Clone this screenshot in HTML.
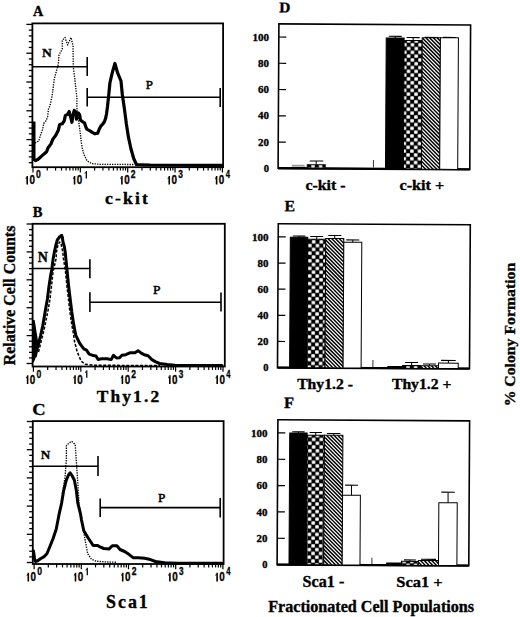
<!DOCTYPE html>
<html><head><meta charset="utf-8"><style>
html,body{margin:0;padding:0;background:#fff;width:520px;height:617px;overflow:hidden}
svg{display:block}
text{fill:#000;stroke:#000;stroke-width:0.35px;font-kerning:none;font-family:"Liberation Serif",serif}
.tk,.tks{stroke-width:0.45px}
.tk{font-family:"Liberation Sans",sans-serif;font-size:12.2px}
.tks{font-family:"Liberation Sans",sans-serif;font-size:10.7px}
</style></head><body>
<svg width="520" height="617" viewBox="0 0 520 617">
<rect x="32.4" y="23.4" width="190.7" height="143.79999999999998" fill="none" stroke="#000" stroke-width="1.8"/>
<line x1="26.40" y1="24.40" x2="32.40" y2="24.40" stroke="#000" stroke-width="1.3"/>
<line x1="28.80" y1="30.16" x2="32.40" y2="30.16" stroke="#000" stroke-width="1.3"/>
<line x1="28.80" y1="35.92" x2="32.40" y2="35.92" stroke="#000" stroke-width="1.3"/>
<line x1="28.80" y1="41.68" x2="32.40" y2="41.68" stroke="#000" stroke-width="1.3"/>
<line x1="28.80" y1="47.44" x2="32.40" y2="47.44" stroke="#000" stroke-width="1.3"/>
<line x1="26.40" y1="53.20" x2="32.40" y2="53.20" stroke="#000" stroke-width="1.3"/>
<line x1="28.80" y1="58.96" x2="32.40" y2="58.96" stroke="#000" stroke-width="1.3"/>
<line x1="28.80" y1="64.72" x2="32.40" y2="64.72" stroke="#000" stroke-width="1.3"/>
<line x1="28.80" y1="70.48" x2="32.40" y2="70.48" stroke="#000" stroke-width="1.3"/>
<line x1="28.80" y1="76.24" x2="32.40" y2="76.24" stroke="#000" stroke-width="1.3"/>
<line x1="26.40" y1="82.00" x2="32.40" y2="82.00" stroke="#000" stroke-width="1.3"/>
<line x1="28.80" y1="87.76" x2="32.40" y2="87.76" stroke="#000" stroke-width="1.3"/>
<line x1="28.80" y1="93.52" x2="32.40" y2="93.52" stroke="#000" stroke-width="1.3"/>
<line x1="28.80" y1="99.28" x2="32.40" y2="99.28" stroke="#000" stroke-width="1.3"/>
<line x1="28.80" y1="105.04" x2="32.40" y2="105.04" stroke="#000" stroke-width="1.3"/>
<line x1="26.40" y1="110.80" x2="32.40" y2="110.80" stroke="#000" stroke-width="1.3"/>
<line x1="28.80" y1="116.56" x2="32.40" y2="116.56" stroke="#000" stroke-width="1.3"/>
<line x1="28.80" y1="122.32" x2="32.40" y2="122.32" stroke="#000" stroke-width="1.3"/>
<line x1="28.80" y1="128.08" x2="32.40" y2="128.08" stroke="#000" stroke-width="1.3"/>
<line x1="28.80" y1="133.84" x2="32.40" y2="133.84" stroke="#000" stroke-width="1.3"/>
<line x1="26.40" y1="139.60" x2="32.40" y2="139.60" stroke="#000" stroke-width="1.3"/>
<line x1="28.80" y1="145.36" x2="32.40" y2="145.36" stroke="#000" stroke-width="1.3"/>
<line x1="28.80" y1="151.12" x2="32.40" y2="151.12" stroke="#000" stroke-width="1.3"/>
<line x1="28.80" y1="156.88" x2="32.40" y2="156.88" stroke="#000" stroke-width="1.3"/>
<line x1="28.80" y1="162.64" x2="32.40" y2="162.64" stroke="#000" stroke-width="1.3"/>
<line x1="33.00" y1="167.20" x2="33.00" y2="172.40" stroke="#000" stroke-width="1.2"/>
<line x1="47.25" y1="167.20" x2="47.25" y2="170.60" stroke="#000" stroke-width="1.2"/>
<line x1="55.59" y1="167.20" x2="55.59" y2="170.60" stroke="#000" stroke-width="1.2"/>
<line x1="61.51" y1="167.20" x2="61.51" y2="170.60" stroke="#000" stroke-width="1.2"/>
<line x1="66.10" y1="167.20" x2="66.10" y2="170.60" stroke="#000" stroke-width="1.2"/>
<line x1="69.85" y1="167.20" x2="69.85" y2="170.60" stroke="#000" stroke-width="1.2"/>
<line x1="73.02" y1="167.20" x2="73.02" y2="170.60" stroke="#000" stroke-width="1.2"/>
<line x1="75.76" y1="167.20" x2="75.76" y2="170.60" stroke="#000" stroke-width="1.2"/>
<line x1="78.18" y1="167.20" x2="78.18" y2="170.60" stroke="#000" stroke-width="1.2"/>
<line x1="80.35" y1="167.20" x2="80.35" y2="172.40" stroke="#000" stroke-width="1.2"/>
<line x1="94.60" y1="167.20" x2="94.60" y2="170.60" stroke="#000" stroke-width="1.2"/>
<line x1="102.94" y1="167.20" x2="102.94" y2="170.60" stroke="#000" stroke-width="1.2"/>
<line x1="108.86" y1="167.20" x2="108.86" y2="170.60" stroke="#000" stroke-width="1.2"/>
<line x1="113.45" y1="167.20" x2="113.45" y2="170.60" stroke="#000" stroke-width="1.2"/>
<line x1="117.20" y1="167.20" x2="117.20" y2="170.60" stroke="#000" stroke-width="1.2"/>
<line x1="120.37" y1="167.20" x2="120.37" y2="170.60" stroke="#000" stroke-width="1.2"/>
<line x1="123.11" y1="167.20" x2="123.11" y2="170.60" stroke="#000" stroke-width="1.2"/>
<line x1="125.53" y1="167.20" x2="125.53" y2="170.60" stroke="#000" stroke-width="1.2"/>
<line x1="127.70" y1="167.20" x2="127.70" y2="172.40" stroke="#000" stroke-width="1.2"/>
<line x1="141.95" y1="167.20" x2="141.95" y2="170.60" stroke="#000" stroke-width="1.2"/>
<line x1="150.29" y1="167.20" x2="150.29" y2="170.60" stroke="#000" stroke-width="1.2"/>
<line x1="156.21" y1="167.20" x2="156.21" y2="170.60" stroke="#000" stroke-width="1.2"/>
<line x1="160.80" y1="167.20" x2="160.80" y2="170.60" stroke="#000" stroke-width="1.2"/>
<line x1="164.55" y1="167.20" x2="164.55" y2="170.60" stroke="#000" stroke-width="1.2"/>
<line x1="167.72" y1="167.20" x2="167.72" y2="170.60" stroke="#000" stroke-width="1.2"/>
<line x1="170.46" y1="167.20" x2="170.46" y2="170.60" stroke="#000" stroke-width="1.2"/>
<line x1="172.88" y1="167.20" x2="172.88" y2="170.60" stroke="#000" stroke-width="1.2"/>
<line x1="175.05" y1="167.20" x2="175.05" y2="172.40" stroke="#000" stroke-width="1.2"/>
<line x1="189.30" y1="167.20" x2="189.30" y2="170.60" stroke="#000" stroke-width="1.2"/>
<line x1="197.64" y1="167.20" x2="197.64" y2="170.60" stroke="#000" stroke-width="1.2"/>
<line x1="203.56" y1="167.20" x2="203.56" y2="170.60" stroke="#000" stroke-width="1.2"/>
<line x1="208.15" y1="167.20" x2="208.15" y2="170.60" stroke="#000" stroke-width="1.2"/>
<line x1="211.90" y1="167.20" x2="211.90" y2="170.60" stroke="#000" stroke-width="1.2"/>
<line x1="215.07" y1="167.20" x2="215.07" y2="170.60" stroke="#000" stroke-width="1.2"/>
<line x1="217.81" y1="167.20" x2="217.81" y2="170.60" stroke="#000" stroke-width="1.2"/>
<line x1="220.23" y1="167.20" x2="220.23" y2="170.60" stroke="#000" stroke-width="1.2"/>
<line x1="222.40" y1="167.20" x2="222.40" y2="172.40" stroke="#000" stroke-width="1.2"/>
<path d="M26.40,175.90H28.00V184.60H26.40ZM26.60,175.90L25.60,178.16L25.60,179.38L26.60,177.81Z" fill="#000"/>
<text transform="translate(29.46,184.45) scale(0.8215,1)" style="font-family:'Liberation Sans',sans-serif;font-weight:bold;font-size:12.03px;stroke-width:0.30px">0</text>
<text transform="translate(36.11,178.35) scale(0.8360,1)" style="font-family:'Liberation Sans',sans-serif;font-weight:bold;font-size:10.31px;stroke-width:0.30px">0</text>
<path d="M73.75,175.90H75.35V184.60H73.75ZM73.95,175.90L72.95,178.16L72.95,179.38L73.95,177.81Z" fill="#000"/>
<text transform="translate(76.81,184.45) scale(0.8215,1)" style="font-family:'Liberation Sans',sans-serif;font-weight:bold;font-size:12.03px;stroke-width:0.30px">0</text>
<path d="M85.70,171.00H86.95V178.50H85.70ZM85.90,171.00L84.65,172.95L84.65,174.00L85.90,172.65Z" fill="#000"/>
<path d="M121.10,175.90H122.70V184.60H121.10ZM121.30,175.90L120.30,178.16L120.30,179.38L121.30,177.81Z" fill="#000"/>
<text transform="translate(124.16,184.45) scale(0.8215,1)" style="font-family:'Liberation Sans',sans-serif;font-weight:bold;font-size:12.03px;stroke-width:0.30px">0</text>
<text transform="translate(130.85,178.35) scale(0.8259,1)" style="font-family:'Liberation Sans',sans-serif;font-weight:bold;font-size:10.31px;stroke-width:0.30px">2</text>
<path d="M168.45,175.90H170.05V184.60H168.45ZM168.65,175.90L167.65,178.16L167.65,179.38L168.65,177.81Z" fill="#000"/>
<text transform="translate(171.51,184.45) scale(0.8215,1)" style="font-family:'Liberation Sans',sans-serif;font-weight:bold;font-size:12.03px;stroke-width:0.30px">0</text>
<text transform="translate(178.31,178.35) scale(0.7999,1)" style="font-family:'Liberation Sans',sans-serif;font-weight:bold;font-size:10.31px;stroke-width:0.30px">3</text>
<path d="M215.80,175.90H217.40V184.60H215.80ZM216.00,175.90L215.00,178.16L215.00,179.38L216.00,177.81Z" fill="#000"/>
<text transform="translate(218.86,184.45) scale(0.8215,1)" style="font-family:'Liberation Sans',sans-serif;font-weight:bold;font-size:12.03px;stroke-width:0.30px">0</text>
<text transform="translate(225.73,178.35) scale(0.7314,1)" style="font-family:'Liberation Sans',sans-serif;font-weight:bold;font-size:10.47px;stroke-width:0.30px">4</text>
<line x1="33.8" y1="121.5" x2="33.8" y2="161" stroke="#000" stroke-width="3.4"/>
<polyline points="35.5,160.5 37.8,159.5 42.7,155.1 46.6,151.7 48.1,147.8 51.0,143.9 52.9,139.1 55.8,135.2 58.3,130.3 59.7,124.5 62.3,123.8 64.2,120.8 65.4,115.4 67.3,114.6 69.2,111.5 70.8,117.7 71.9,122.3 73.1,115.4 74.2,110.4 76.2,112.3 76.5,119.2 78.5,113.1 79.6,114.6 80.4,120.0 82.3,121.5 84.6,123.1 85.8,126.9 86.9,129.2 90.0,130.8 92.3,132.3 95.0,133.8 97.7,133.1 99.2,129.2 100.8,126.2 102.8,124.0 104.5,121.5 105.5,118.6 106.5,114.0 107.5,106.5 108.8,94.4 109.9,83.0 112.2,72.9 114.9,63.5 117.6,72.9 121.0,81.0 122.3,94.4 124.3,107.9 125.7,118.6 126.3,123.5 128.4,136.9 131.0,149.0 133.7,158.5 136.4,164.5 150.0,165.0 222.0,165.3" fill="none" stroke="#000" stroke-width="3.2" stroke-linejoin="round" stroke-linecap="round"/>
<polyline points="35.0,143.0 38.8,141.0 40.8,134.2 42.7,129.3 43.7,123.5 46.1,120.6 47.6,116.7 48.5,108.9 50.0,105.5 52.2,95.4 54.2,79.2 56.2,71.8 58.3,64.4 59.0,55.0 62.3,49.0 62.3,40.2 65.0,37.5 67.7,45.0 71.0,37.5 73.0,45.6 73.3,67.0 75.0,80.6 76.9,98.0 76.9,108.0 79.2,125.0 80.0,131.0 80.8,138.0 81.8,146.0 83.8,154.2 87.2,161.0 91.9,163.6 100.0,164.3 134.0,164.5" fill="none" stroke="#000" stroke-width="1.35" stroke-linejoin="round" stroke-linecap="butt" stroke-dasharray="1.3 1.2"/>
<line x1="32.4" y1="66.8" x2="87.2" y2="66.8" stroke="#000" stroke-width="1.6"/><line x1="87.2" y1="57" x2="87.2" y2="75.9" stroke="#000" stroke-width="1.6"/>
<line x1="87.2" y1="97.3" x2="220.2" y2="97.3" stroke="#000" stroke-width="1.6"/><line x1="87.2" y1="88" x2="87.2" y2="106.5" stroke="#000" stroke-width="1.6"/><line x1="220.2" y1="88.1" x2="220.2" y2="106.9" stroke="#000" stroke-width="1.6"/>
<text transform="translate(41.92,56.62) scale(1.0258,1)" style="font-family:'Liberation Serif',serif;font-weight:bold;font-size:13.21px;stroke-width:0.35px">N</text>
<text transform="translate(145.80,89.45) scale(1.0000,1)" style="font-family:'Liberation Serif',serif;font-weight:normal;font-size:12.83px;stroke-width:0.50px">P</text>
<text transform="translate(33.04,15.72) scale(0.9180,1)" style="font-family:'Liberation Serif',serif;font-weight:bold;font-size:15.53px;stroke-width:0.35px">A</text>
<text transform="translate(105.07,204.42) scale(1.0941,1)" style="font-family:'Liberation Serif',serif;font-weight:bold;font-size:16.07px;letter-spacing:2.00px;stroke-width:0.35px">c-kit</text>
<rect x="32.6" y="223.8" width="192.20000000000002" height="142.7" fill="none" stroke="#000" stroke-width="1.8"/>
<line x1="26.60" y1="224.00" x2="32.60" y2="224.00" stroke="#000" stroke-width="1.3"/>
<line x1="29.00" y1="229.58" x2="32.60" y2="229.58" stroke="#000" stroke-width="1.3"/>
<line x1="29.00" y1="235.16" x2="32.60" y2="235.16" stroke="#000" stroke-width="1.3"/>
<line x1="29.00" y1="240.74" x2="32.60" y2="240.74" stroke="#000" stroke-width="1.3"/>
<line x1="29.00" y1="246.32" x2="32.60" y2="246.32" stroke="#000" stroke-width="1.3"/>
<line x1="26.60" y1="251.90" x2="32.60" y2="251.90" stroke="#000" stroke-width="1.3"/>
<line x1="29.00" y1="257.48" x2="32.60" y2="257.48" stroke="#000" stroke-width="1.3"/>
<line x1="29.00" y1="263.06" x2="32.60" y2="263.06" stroke="#000" stroke-width="1.3"/>
<line x1="29.00" y1="268.64" x2="32.60" y2="268.64" stroke="#000" stroke-width="1.3"/>
<line x1="29.00" y1="274.22" x2="32.60" y2="274.22" stroke="#000" stroke-width="1.3"/>
<line x1="26.60" y1="279.80" x2="32.60" y2="279.80" stroke="#000" stroke-width="1.3"/>
<line x1="29.00" y1="285.38" x2="32.60" y2="285.38" stroke="#000" stroke-width="1.3"/>
<line x1="29.00" y1="290.96" x2="32.60" y2="290.96" stroke="#000" stroke-width="1.3"/>
<line x1="29.00" y1="296.54" x2="32.60" y2="296.54" stroke="#000" stroke-width="1.3"/>
<line x1="29.00" y1="302.12" x2="32.60" y2="302.12" stroke="#000" stroke-width="1.3"/>
<line x1="26.60" y1="307.70" x2="32.60" y2="307.70" stroke="#000" stroke-width="1.3"/>
<line x1="29.00" y1="313.28" x2="32.60" y2="313.28" stroke="#000" stroke-width="1.3"/>
<line x1="29.00" y1="318.86" x2="32.60" y2="318.86" stroke="#000" stroke-width="1.3"/>
<line x1="29.00" y1="324.44" x2="32.60" y2="324.44" stroke="#000" stroke-width="1.3"/>
<line x1="29.00" y1="330.02" x2="32.60" y2="330.02" stroke="#000" stroke-width="1.3"/>
<line x1="26.60" y1="335.60" x2="32.60" y2="335.60" stroke="#000" stroke-width="1.3"/>
<line x1="29.00" y1="341.18" x2="32.60" y2="341.18" stroke="#000" stroke-width="1.3"/>
<line x1="29.00" y1="346.76" x2="32.60" y2="346.76" stroke="#000" stroke-width="1.3"/>
<line x1="29.00" y1="352.34" x2="32.60" y2="352.34" stroke="#000" stroke-width="1.3"/>
<line x1="29.00" y1="357.92" x2="32.60" y2="357.92" stroke="#000" stroke-width="1.3"/>
<line x1="26.60" y1="363.50" x2="32.60" y2="363.50" stroke="#000" stroke-width="1.3"/>
<line x1="33.40" y1="366.50" x2="33.40" y2="371.70" stroke="#000" stroke-width="1.2"/>
<line x1="47.67" y1="366.50" x2="47.67" y2="369.90" stroke="#000" stroke-width="1.2"/>
<line x1="56.02" y1="366.50" x2="56.02" y2="369.90" stroke="#000" stroke-width="1.2"/>
<line x1="61.94" y1="366.50" x2="61.94" y2="369.90" stroke="#000" stroke-width="1.2"/>
<line x1="66.53" y1="366.50" x2="66.53" y2="369.90" stroke="#000" stroke-width="1.2"/>
<line x1="70.28" y1="366.50" x2="70.28" y2="369.90" stroke="#000" stroke-width="1.2"/>
<line x1="73.46" y1="366.50" x2="73.46" y2="369.90" stroke="#000" stroke-width="1.2"/>
<line x1="76.21" y1="366.50" x2="76.21" y2="369.90" stroke="#000" stroke-width="1.2"/>
<line x1="78.63" y1="366.50" x2="78.63" y2="369.90" stroke="#000" stroke-width="1.2"/>
<line x1="80.80" y1="366.50" x2="80.80" y2="371.70" stroke="#000" stroke-width="1.2"/>
<line x1="95.07" y1="366.50" x2="95.07" y2="369.90" stroke="#000" stroke-width="1.2"/>
<line x1="103.42" y1="366.50" x2="103.42" y2="369.90" stroke="#000" stroke-width="1.2"/>
<line x1="109.34" y1="366.50" x2="109.34" y2="369.90" stroke="#000" stroke-width="1.2"/>
<line x1="113.93" y1="366.50" x2="113.93" y2="369.90" stroke="#000" stroke-width="1.2"/>
<line x1="117.68" y1="366.50" x2="117.68" y2="369.90" stroke="#000" stroke-width="1.2"/>
<line x1="120.86" y1="366.50" x2="120.86" y2="369.90" stroke="#000" stroke-width="1.2"/>
<line x1="123.61" y1="366.50" x2="123.61" y2="369.90" stroke="#000" stroke-width="1.2"/>
<line x1="126.03" y1="366.50" x2="126.03" y2="369.90" stroke="#000" stroke-width="1.2"/>
<line x1="128.20" y1="366.50" x2="128.20" y2="371.70" stroke="#000" stroke-width="1.2"/>
<line x1="142.47" y1="366.50" x2="142.47" y2="369.90" stroke="#000" stroke-width="1.2"/>
<line x1="150.82" y1="366.50" x2="150.82" y2="369.90" stroke="#000" stroke-width="1.2"/>
<line x1="156.74" y1="366.50" x2="156.74" y2="369.90" stroke="#000" stroke-width="1.2"/>
<line x1="161.33" y1="366.50" x2="161.33" y2="369.90" stroke="#000" stroke-width="1.2"/>
<line x1="165.08" y1="366.50" x2="165.08" y2="369.90" stroke="#000" stroke-width="1.2"/>
<line x1="168.26" y1="366.50" x2="168.26" y2="369.90" stroke="#000" stroke-width="1.2"/>
<line x1="171.01" y1="366.50" x2="171.01" y2="369.90" stroke="#000" stroke-width="1.2"/>
<line x1="173.43" y1="366.50" x2="173.43" y2="369.90" stroke="#000" stroke-width="1.2"/>
<line x1="175.60" y1="366.50" x2="175.60" y2="371.70" stroke="#000" stroke-width="1.2"/>
<line x1="189.87" y1="366.50" x2="189.87" y2="369.90" stroke="#000" stroke-width="1.2"/>
<line x1="198.22" y1="366.50" x2="198.22" y2="369.90" stroke="#000" stroke-width="1.2"/>
<line x1="204.14" y1="366.50" x2="204.14" y2="369.90" stroke="#000" stroke-width="1.2"/>
<line x1="208.73" y1="366.50" x2="208.73" y2="369.90" stroke="#000" stroke-width="1.2"/>
<line x1="212.48" y1="366.50" x2="212.48" y2="369.90" stroke="#000" stroke-width="1.2"/>
<line x1="215.66" y1="366.50" x2="215.66" y2="369.90" stroke="#000" stroke-width="1.2"/>
<line x1="218.41" y1="366.50" x2="218.41" y2="369.90" stroke="#000" stroke-width="1.2"/>
<line x1="220.83" y1="366.50" x2="220.83" y2="369.90" stroke="#000" stroke-width="1.2"/>
<line x1="223.00" y1="366.50" x2="223.00" y2="371.70" stroke="#000" stroke-width="1.2"/>
<path d="M26.80,375.20H28.40V383.90H26.80ZM27.00,375.20L26.00,377.46L26.00,378.68L27.00,377.11Z" fill="#000"/>
<text transform="translate(29.86,383.75) scale(0.8215,1)" style="font-family:'Liberation Sans',sans-serif;font-weight:bold;font-size:12.03px;stroke-width:0.30px">0</text>
<text transform="translate(36.51,377.65) scale(0.8360,1)" style="font-family:'Liberation Sans',sans-serif;font-weight:bold;font-size:10.31px;stroke-width:0.30px">0</text>
<path d="M74.20,375.20H75.80V383.90H74.20ZM74.40,375.20L73.40,377.46L73.40,378.68L74.40,377.11Z" fill="#000"/>
<text transform="translate(77.26,383.75) scale(0.8215,1)" style="font-family:'Liberation Sans',sans-serif;font-weight:bold;font-size:12.03px;stroke-width:0.30px">0</text>
<path d="M86.15,370.30H87.40V377.80H86.15ZM86.35,370.30L85.10,372.25L85.10,373.30L86.35,371.95Z" fill="#000"/>
<path d="M121.60,375.20H123.20V383.90H121.60ZM121.80,375.20L120.80,377.46L120.80,378.68L121.80,377.11Z" fill="#000"/>
<text transform="translate(124.66,383.75) scale(0.8215,1)" style="font-family:'Liberation Sans',sans-serif;font-weight:bold;font-size:12.03px;stroke-width:0.30px">0</text>
<text transform="translate(131.35,377.65) scale(0.8259,1)" style="font-family:'Liberation Sans',sans-serif;font-weight:bold;font-size:10.31px;stroke-width:0.30px">2</text>
<path d="M169.00,375.20H170.60V383.90H169.00ZM169.20,375.20L168.20,377.46L168.20,378.68L169.20,377.11Z" fill="#000"/>
<text transform="translate(172.06,383.75) scale(0.8215,1)" style="font-family:'Liberation Sans',sans-serif;font-weight:bold;font-size:12.03px;stroke-width:0.30px">0</text>
<text transform="translate(178.86,377.65) scale(0.7999,1)" style="font-family:'Liberation Sans',sans-serif;font-weight:bold;font-size:10.31px;stroke-width:0.30px">3</text>
<path d="M216.40,375.20H218.00V383.90H216.40ZM216.60,375.20L215.60,377.46L215.60,378.68L216.60,377.11Z" fill="#000"/>
<text transform="translate(219.46,383.75) scale(0.8215,1)" style="font-family:'Liberation Sans',sans-serif;font-weight:bold;font-size:12.03px;stroke-width:0.30px">0</text>
<text transform="translate(226.33,377.65) scale(0.7314,1)" style="font-family:'Liberation Sans',sans-serif;font-weight:bold;font-size:10.47px;stroke-width:0.30px">4</text>
<polyline points="35.5,356.0 36.4,351.3 38.5,344.0 40.6,335.5 42.7,326.0 45.4,310.3 47.4,299.0 49.0,286.2 50.7,275.0 51.7,270.0 53.1,259.2 54.4,251.9 55.8,245.5 57.3,240.0 59.5,237.0 61.6,235.3 62.3,237.0 63.0,242.0 64.3,246.5 65.2,251.9 65.9,259.2 67.0,270.0 68.5,285.0 69.7,295.0 71.7,311.2 73.7,324.6 75.8,335.4 79.8,343.5 83.8,348.8 86.5,350.2 89.2,354.2 93.3,355.6 96.0,356.0 98.1,359.6 101.2,358.8 107.3,358.8 111.2,359.6 113.5,355.3 116.5,358.0 119.6,357.8 121.9,355.3 125.8,354.7 130.4,352.7 135.0,352.7 138.1,350.7 141.2,353.2 144.2,354.7 148.1,355.8 151.9,359.6 155.8,361.9 159.6,363.5 167.3,364.5 175.0,365.3 222.0,365.5" fill="none" stroke="#000" stroke-width="3.0" stroke-linejoin="round" stroke-linecap="round"/>
<polygon points="32.6,330 34.5,322 37.8,346 36.5,353 35,360 33,363" fill="#000"/>
<polyline points="33.6,321.0 35.5,333.0 37.6,346.0" fill="none" stroke="#000" stroke-width="2.4" stroke-linejoin="round" stroke-linecap="round"/>
<polyline points="38.5,352.0 41.0,342.0 44.0,330.0 46.5,318.0 48.5,308.0 50.0,299.0 51.5,286.0 53.0,272.0 56.0,259.2 56.5,251.9 57.8,245.5 59.5,242.0 61.0,243.0 61.5,246.0 62.8,251.9 63.5,259.2 65.3,270.0 66.8,285.0 68.0,295.0 69.7,310.0 71.8,325.0 73.5,334.0 74.4,340.8 77.1,351.5 81.1,361.0 85.2,364.3 95.0,365.3 160.0,365.5" fill="none" stroke="#000" stroke-width="1.5" stroke-linejoin="round" stroke-linecap="butt" stroke-dasharray="3 1.6"/>
<line x1="32.6" y1="268.5" x2="89.9" y2="268.5" stroke="#000" stroke-width="1.6"/><line x1="89.9" y1="259.3" x2="89.9" y2="278.2" stroke="#000" stroke-width="1.6"/>
<line x1="89.9" y1="302.2" x2="221.0" y2="302.2" stroke="#000" stroke-width="1.6"/><line x1="89.9" y1="292.3" x2="89.9" y2="312" stroke="#000" stroke-width="1.6"/><line x1="221.0" y1="292.4" x2="221.0" y2="311.6" stroke="#000" stroke-width="1.6"/>
<text transform="translate(37.81,262.43) scale(1.0233,1)" style="font-family:'Liberation Serif',serif;font-weight:bold;font-size:13.67px;stroke-width:0.35px">N</text>
<text transform="translate(152.94,294.25) scale(1.0000,1)" style="font-family:'Liberation Serif',serif;font-weight:normal;font-size:13.44px;stroke-width:0.50px">P</text>
<text transform="translate(32.73,216.92) scale(0.9763,1)" style="font-family:'Liberation Serif',serif;font-weight:bold;font-size:14.89px;stroke-width:0.35px">B</text>
<text transform="translate(96.70,401.62) scale(1.0732,1)" style="font-family:'Liberation Serif',serif;font-weight:bold;font-size:16.21px;letter-spacing:2.00px;stroke-width:0.35px">Thy1.2</text>
<rect x="32.8" y="421.1" width="190.8" height="142.89999999999998" fill="none" stroke="#000" stroke-width="1.8"/>
<line x1="26.80" y1="421.50" x2="32.80" y2="421.50" stroke="#000" stroke-width="1.3"/>
<line x1="29.20" y1="427.14" x2="32.80" y2="427.14" stroke="#000" stroke-width="1.3"/>
<line x1="29.20" y1="432.78" x2="32.80" y2="432.78" stroke="#000" stroke-width="1.3"/>
<line x1="29.20" y1="438.42" x2="32.80" y2="438.42" stroke="#000" stroke-width="1.3"/>
<line x1="29.20" y1="444.06" x2="32.80" y2="444.06" stroke="#000" stroke-width="1.3"/>
<line x1="26.80" y1="449.70" x2="32.80" y2="449.70" stroke="#000" stroke-width="1.3"/>
<line x1="29.20" y1="455.34" x2="32.80" y2="455.34" stroke="#000" stroke-width="1.3"/>
<line x1="29.20" y1="460.98" x2="32.80" y2="460.98" stroke="#000" stroke-width="1.3"/>
<line x1="29.20" y1="466.62" x2="32.80" y2="466.62" stroke="#000" stroke-width="1.3"/>
<line x1="29.20" y1="472.26" x2="32.80" y2="472.26" stroke="#000" stroke-width="1.3"/>
<line x1="26.80" y1="477.90" x2="32.80" y2="477.90" stroke="#000" stroke-width="1.3"/>
<line x1="29.20" y1="483.54" x2="32.80" y2="483.54" stroke="#000" stroke-width="1.3"/>
<line x1="29.20" y1="489.18" x2="32.80" y2="489.18" stroke="#000" stroke-width="1.3"/>
<line x1="29.20" y1="494.82" x2="32.80" y2="494.82" stroke="#000" stroke-width="1.3"/>
<line x1="29.20" y1="500.46" x2="32.80" y2="500.46" stroke="#000" stroke-width="1.3"/>
<line x1="26.80" y1="506.10" x2="32.80" y2="506.10" stroke="#000" stroke-width="1.3"/>
<line x1="29.20" y1="511.74" x2="32.80" y2="511.74" stroke="#000" stroke-width="1.3"/>
<line x1="29.20" y1="517.38" x2="32.80" y2="517.38" stroke="#000" stroke-width="1.3"/>
<line x1="29.20" y1="523.02" x2="32.80" y2="523.02" stroke="#000" stroke-width="1.3"/>
<line x1="29.20" y1="528.66" x2="32.80" y2="528.66" stroke="#000" stroke-width="1.3"/>
<line x1="26.80" y1="534.30" x2="32.80" y2="534.30" stroke="#000" stroke-width="1.3"/>
<line x1="29.20" y1="539.94" x2="32.80" y2="539.94" stroke="#000" stroke-width="1.3"/>
<line x1="29.20" y1="545.58" x2="32.80" y2="545.58" stroke="#000" stroke-width="1.3"/>
<line x1="29.20" y1="551.22" x2="32.80" y2="551.22" stroke="#000" stroke-width="1.3"/>
<line x1="29.20" y1="556.86" x2="32.80" y2="556.86" stroke="#000" stroke-width="1.3"/>
<line x1="26.80" y1="562.50" x2="32.80" y2="562.50" stroke="#000" stroke-width="1.3"/>
<line x1="34.10" y1="564.00" x2="34.10" y2="569.20" stroke="#000" stroke-width="1.2"/>
<line x1="48.31" y1="564.00" x2="48.31" y2="567.40" stroke="#000" stroke-width="1.2"/>
<line x1="56.62" y1="564.00" x2="56.62" y2="567.40" stroke="#000" stroke-width="1.2"/>
<line x1="62.52" y1="564.00" x2="62.52" y2="567.40" stroke="#000" stroke-width="1.2"/>
<line x1="67.09" y1="564.00" x2="67.09" y2="567.40" stroke="#000" stroke-width="1.2"/>
<line x1="70.83" y1="564.00" x2="70.83" y2="567.40" stroke="#000" stroke-width="1.2"/>
<line x1="73.99" y1="564.00" x2="73.99" y2="567.40" stroke="#000" stroke-width="1.2"/>
<line x1="76.73" y1="564.00" x2="76.73" y2="567.40" stroke="#000" stroke-width="1.2"/>
<line x1="79.14" y1="564.00" x2="79.14" y2="567.40" stroke="#000" stroke-width="1.2"/>
<line x1="81.30" y1="564.00" x2="81.30" y2="569.20" stroke="#000" stroke-width="1.2"/>
<line x1="95.51" y1="564.00" x2="95.51" y2="567.40" stroke="#000" stroke-width="1.2"/>
<line x1="103.82" y1="564.00" x2="103.82" y2="567.40" stroke="#000" stroke-width="1.2"/>
<line x1="109.72" y1="564.00" x2="109.72" y2="567.40" stroke="#000" stroke-width="1.2"/>
<line x1="114.29" y1="564.00" x2="114.29" y2="567.40" stroke="#000" stroke-width="1.2"/>
<line x1="118.03" y1="564.00" x2="118.03" y2="567.40" stroke="#000" stroke-width="1.2"/>
<line x1="121.19" y1="564.00" x2="121.19" y2="567.40" stroke="#000" stroke-width="1.2"/>
<line x1="123.93" y1="564.00" x2="123.93" y2="567.40" stroke="#000" stroke-width="1.2"/>
<line x1="126.34" y1="564.00" x2="126.34" y2="567.40" stroke="#000" stroke-width="1.2"/>
<line x1="128.50" y1="564.00" x2="128.50" y2="569.20" stroke="#000" stroke-width="1.2"/>
<line x1="142.71" y1="564.00" x2="142.71" y2="567.40" stroke="#000" stroke-width="1.2"/>
<line x1="151.02" y1="564.00" x2="151.02" y2="567.40" stroke="#000" stroke-width="1.2"/>
<line x1="156.92" y1="564.00" x2="156.92" y2="567.40" stroke="#000" stroke-width="1.2"/>
<line x1="161.49" y1="564.00" x2="161.49" y2="567.40" stroke="#000" stroke-width="1.2"/>
<line x1="165.23" y1="564.00" x2="165.23" y2="567.40" stroke="#000" stroke-width="1.2"/>
<line x1="168.39" y1="564.00" x2="168.39" y2="567.40" stroke="#000" stroke-width="1.2"/>
<line x1="171.13" y1="564.00" x2="171.13" y2="567.40" stroke="#000" stroke-width="1.2"/>
<line x1="173.54" y1="564.00" x2="173.54" y2="567.40" stroke="#000" stroke-width="1.2"/>
<line x1="175.70" y1="564.00" x2="175.70" y2="569.20" stroke="#000" stroke-width="1.2"/>
<line x1="189.91" y1="564.00" x2="189.91" y2="567.40" stroke="#000" stroke-width="1.2"/>
<line x1="198.22" y1="564.00" x2="198.22" y2="567.40" stroke="#000" stroke-width="1.2"/>
<line x1="204.12" y1="564.00" x2="204.12" y2="567.40" stroke="#000" stroke-width="1.2"/>
<line x1="208.69" y1="564.00" x2="208.69" y2="567.40" stroke="#000" stroke-width="1.2"/>
<line x1="212.43" y1="564.00" x2="212.43" y2="567.40" stroke="#000" stroke-width="1.2"/>
<line x1="215.59" y1="564.00" x2="215.59" y2="567.40" stroke="#000" stroke-width="1.2"/>
<line x1="218.33" y1="564.00" x2="218.33" y2="567.40" stroke="#000" stroke-width="1.2"/>
<line x1="220.74" y1="564.00" x2="220.74" y2="567.40" stroke="#000" stroke-width="1.2"/>
<line x1="222.90" y1="564.00" x2="222.90" y2="569.20" stroke="#000" stroke-width="1.2"/>
<path d="M27.50,572.70H29.10V581.40H27.50ZM27.70,572.70L26.70,574.96L26.70,576.18L27.70,574.61Z" fill="#000"/>
<text transform="translate(30.56,581.25) scale(0.8215,1)" style="font-family:'Liberation Sans',sans-serif;font-weight:bold;font-size:12.03px;stroke-width:0.30px">0</text>
<text transform="translate(37.21,575.15) scale(0.8360,1)" style="font-family:'Liberation Sans',sans-serif;font-weight:bold;font-size:10.31px;stroke-width:0.30px">0</text>
<path d="M74.70,572.70H76.30V581.40H74.70ZM74.90,572.70L73.90,574.96L73.90,576.18L74.90,574.61Z" fill="#000"/>
<text transform="translate(77.76,581.25) scale(0.8215,1)" style="font-family:'Liberation Sans',sans-serif;font-weight:bold;font-size:12.03px;stroke-width:0.30px">0</text>
<path d="M86.65,567.80H87.90V575.30H86.65ZM86.85,567.80L85.60,569.75L85.60,570.80L86.85,569.45Z" fill="#000"/>
<path d="M121.90,572.70H123.50V581.40H121.90ZM122.10,572.70L121.10,574.96L121.10,576.18L122.10,574.61Z" fill="#000"/>
<text transform="translate(124.96,581.25) scale(0.8215,1)" style="font-family:'Liberation Sans',sans-serif;font-weight:bold;font-size:12.03px;stroke-width:0.30px">0</text>
<text transform="translate(131.65,575.15) scale(0.8259,1)" style="font-family:'Liberation Sans',sans-serif;font-weight:bold;font-size:10.31px;stroke-width:0.30px">2</text>
<path d="M169.10,572.70H170.70V581.40H169.10ZM169.30,572.70L168.30,574.96L168.30,576.18L169.30,574.61Z" fill="#000"/>
<text transform="translate(172.16,581.25) scale(0.8215,1)" style="font-family:'Liberation Sans',sans-serif;font-weight:bold;font-size:12.03px;stroke-width:0.30px">0</text>
<text transform="translate(178.96,575.15) scale(0.7999,1)" style="font-family:'Liberation Sans',sans-serif;font-weight:bold;font-size:10.31px;stroke-width:0.30px">3</text>
<path d="M216.30,572.70H217.90V581.40H216.30ZM216.50,572.70L215.50,574.96L215.50,576.18L216.50,574.61Z" fill="#000"/>
<text transform="translate(219.36,581.25) scale(0.8215,1)" style="font-family:'Liberation Sans',sans-serif;font-weight:bold;font-size:12.03px;stroke-width:0.30px">0</text>
<text transform="translate(226.23,575.15) scale(0.7314,1)" style="font-family:'Liberation Sans',sans-serif;font-weight:bold;font-size:10.47px;stroke-width:0.30px">4</text>
<polyline points="33.5,551.0 34.6,559.0 35.5,561.5 37.7,560.8 40.8,558.5 43.8,556.9 46.9,553.8 50.0,546.2 53.1,538.5 56.2,529.2 58.9,515.2 61.6,503.1 63.6,491.0 66.3,480.2 68.5,475.0 70.1,472.8 72.0,475.5 74.4,480.2 76.4,491.0 77.8,503.1 80.5,513.8 81.5,520.0 83.8,530.8 88.5,538.5 93.1,545.4 97.7,545.4 100.0,546.9 103.8,548.5 109.2,548.9 112.3,545.8 116.9,545.8 120.0,549.5 124.6,551.5 129.2,554.6 133.1,557.7 138.5,557.7 144.6,558.2 149.2,559.2 155.4,561.5 164.6,562.8 176.9,563.2 222.0,563.2" fill="none" stroke="#000" stroke-width="3.0" stroke-linejoin="round" stroke-linecap="round"/>
<polyline points="62.3,493.6 65.0,477.5 66.4,458.0 66.4,445.8 69.0,443.0 71.8,441.5 75.2,444.4 76.5,463.3 77.8,482.9 79.1,504.4 81.0,518.0 83.1,529.2 85.4,541.5 87.7,553.8 91.5,559.2 96.2,561.2 103.8,561.8 117.0,562.3" fill="none" stroke="#000" stroke-width="1.35" stroke-linejoin="round" stroke-linecap="butt" stroke-dasharray="1.3 1.2"/>
<line x1="32.8" y1="466.2" x2="98.0" y2="466.2" stroke="#000" stroke-width="1.6"/><line x1="98.0" y1="456" x2="98.0" y2="476" stroke="#000" stroke-width="1.6"/>
<line x1="100.2" y1="507.6" x2="220.2" y2="507.6" stroke="#000" stroke-width="1.6"/><line x1="100.2" y1="498.4" x2="100.2" y2="517" stroke="#000" stroke-width="1.6"/><line x1="220.2" y1="498.1" x2="220.2" y2="517.4" stroke="#000" stroke-width="1.6"/>
<text transform="translate(40.83,459.02) scale(1.0286,1)" style="font-family:'Liberation Serif',serif;font-weight:bold;font-size:12.75px;stroke-width:0.35px">N</text>
<text transform="translate(158.08,502.35) scale(1.0000,1)" style="font-family:'Liberation Serif',serif;font-weight:normal;font-size:13.29px;stroke-width:0.50px">P</text>
<text transform="translate(32.17,414.82) scale(1.0516,1)" style="font-family:'Liberation Serif',serif;font-weight:bold;font-size:17.60px;stroke-width:0.35px">C</text>
<text transform="translate(106.12,607.93) scale(0.9773,1)" style="font-family:'Liberation Serif',serif;font-weight:bold;font-size:18.35px;letter-spacing:2.00px;stroke-width:0.35px">Sca1</text>
<text transform="translate(14.52,365.30) rotate(-90) scale(0.9906,1)" style="font-family:'Liberation Serif',serif;font-weight:bold;font-size:16.07px;stroke-width:0.35px">Relative Cell Counts</text>
<defs>
<pattern id="chk" width="7.6" height="7.6" patternUnits="userSpaceOnUse" x="0.3" y="0.3">
<rect width="7.6" height="7.6" fill="#000"/><rect x="3.95" y="0.15" width="3.5" height="3.5" rx="0.45" fill="#fff"/><rect x="0.15" y="3.95" width="3.5" height="3.5" rx="0.45" fill="#fff"/>
</pattern>
<pattern id="hat" width="2.64" height="2.64" patternUnits="userSpaceOnUse" patternTransform="rotate(45)">
<rect width="2.64" height="2.64" fill="#fff"/><rect width="2.64" height="1.4" fill="#000"/>
</pattern>
</defs>
<text transform="translate(252.48,40.62) scale(0.9776,1)" style="font-family:'Liberation Serif',serif;font-weight:bold;font-size:11.30px;stroke-width:0.35px">100</text>
<text transform="translate(258.12,66.89) scale(0.9666,1)" style="font-family:'Liberation Serif',serif;font-weight:bold;font-size:11.30px;stroke-width:0.35px">80</text>
<text transform="translate(258.12,93.15) scale(0.9666,1)" style="font-family:'Liberation Serif',serif;font-weight:bold;font-size:11.30px;stroke-width:0.35px">60</text>
<text transform="translate(258.11,119.41) scale(0.9673,1)" style="font-family:'Liberation Serif',serif;font-weight:bold;font-size:11.30px;stroke-width:0.35px">40</text>
<text transform="translate(258.12,145.67) scale(0.9663,1)" style="font-family:'Liberation Serif',serif;font-weight:bold;font-size:11.30px;stroke-width:0.35px">20</text>
<text transform="translate(263.79,171.93) scale(0.9269,1)" style="font-family:'Liberation Serif',serif;font-weight:bold;font-size:11.30px;stroke-width:0.35px">0</text>
<g transform="rotate(0.32 278.9 23.9)">
<rect x="278.9" y="23.9" width="191.70000000000005" height="144.4" fill="none" stroke="#000" stroke-width="1.6"/>
<line x1="278.9" y1="168.3" x2="470.6" y2="168.3" stroke="#000" stroke-width="2.4"/>
<line x1="278.9" y1="37.00" x2="286.4" y2="37.00" stroke="#000" stroke-width="1.2"/>
<line x1="278.9" y1="63.26" x2="286.4" y2="63.26" stroke="#000" stroke-width="1.2"/>
<line x1="278.9" y1="89.52" x2="286.4" y2="89.52" stroke="#000" stroke-width="1.2"/>
<line x1="278.9" y1="115.78" x2="286.4" y2="115.78" stroke="#000" stroke-width="1.2"/>
<line x1="278.9" y1="142.04" x2="286.4" y2="142.04" stroke="#000" stroke-width="1.2"/>
<text transform="translate(279.31,12.32) scale(1.0399,1)" style="font-family:'Liberation Serif',serif;font-weight:bold;font-size:14.74px;stroke-width:0.35px">D</text>
<line x1="292.7" y1="165.2" x2="305.3" y2="165.2" stroke="#777" stroke-width="0.9"/>
<rect x="292.7" y="167.18718074409827" width="12.800000000000011" height="1.1128192559017407" fill="#000" stroke="#000" stroke-width="1"/>
<rect x="308.0" y="164.58720724505662" width="18.0" height="3.7127927549433934" fill="url(#chk)" stroke="#000" stroke-width="1"/>
<line x1="317.0" y1="160.7872072450566" x2="317.0" y2="164.58720724505662" stroke="#000" stroke-width="1"/>
<line x1="310.5" y1="160.7872072450566" x2="324" y2="160.7872072450566" stroke="#000" stroke-width="1.1"/>
<rect x="386.3" y="37.35017225622932" width="17.899999999999977" height="131.0498277437707" fill="#000" stroke="#000" stroke-width="1"/>
<line x1="395.25" y1="35.65017225622932" x2="395.25" y2="37.35017225622932" stroke="#000" stroke-width="1"/>
<line x1="388.8" y1="35.65017225622932" x2="401.7" y2="35.65017225622932" stroke="#000" stroke-width="1.1"/>
<rect x="404.2" y="39.749640246019844" width="18.100000000000023" height="128.65035975398015" fill="url(#chk)" stroke="#000" stroke-width="1"/>
<line x1="413.25" y1="36.849640246019845" x2="413.25" y2="39.749640246019844" stroke="#000" stroke-width="1"/>
<line x1="406.7" y1="36.849640246019845" x2="419.8" y2="36.849640246019845" stroke="#000" stroke-width="1.1"/>
<clipPath id="hc1"><rect x="422.3" y="36.94827046905863" width="18.19999999999999" height="131.45172953094138"/></clipPath>
<rect x="422.3" y="36.94827046905863" width="18.19999999999999" height="131.45172953094138" fill="#fff"/>
<path d="M283.79,36.95L415.24,168.40M287.53,36.95L418.98,168.40M291.27,36.95L422.72,168.40M295.01,36.95L426.46,168.40M298.75,36.95L430.20,168.40M302.49,36.95L433.94,168.40M306.23,36.95L437.68,168.40M309.97,36.95L441.42,168.40M313.71,36.95L445.16,168.40M317.45,36.95L448.90,168.40M321.19,36.95L452.64,168.40M324.93,36.95L456.38,168.40M328.67,36.95L460.12,168.40M332.41,36.95L463.86,168.40M336.15,36.95L467.60,168.40M339.89,36.95L471.34,168.40M343.63,36.95L475.08,168.40M347.37,36.95L478.82,168.40M351.11,36.95L482.56,168.40M354.85,36.95L486.30,168.40M358.59,36.95L490.04,168.40M362.33,36.95L493.78,168.40M366.07,36.95L497.52,168.40M369.81,36.95L501.26,168.40M373.55,36.95L505.00,168.40M377.29,36.95L508.74,168.40M381.03,36.95L512.48,168.40M384.77,36.95L516.22,168.40M388.51,36.95L519.96,168.40M392.25,36.95L523.70,168.40M395.99,36.95L527.44,168.40M399.73,36.95L531.18,168.40M403.47,36.95L534.92,168.40M407.21,36.95L538.66,168.40M410.95,36.95L542.40,168.40M414.69,36.95L546.14,168.40M418.43,36.95L549.88,168.40M422.17,36.95L553.62,168.40M425.91,36.95L557.36,168.40M429.65,36.95L561.10,168.40M433.39,36.95L564.84,168.40M437.13,36.95L568.58,168.40M440.87,36.95L572.32,168.40M444.61,36.95L576.06,168.40" stroke="#000" stroke-width="1.45" clip-path="url(#hc1)"/>
<rect x="422.3" y="36.94827046905863" width="18.19999999999999" height="131.45172953094138" fill="none" stroke="#000" stroke-width="1"/>
<line x1="431.4" y1="36.54827046905863" x2="431.4" y2="36.94827046905863" stroke="#000" stroke-width="1"/>
<line x1="424.8" y1="36.54827046905863" x2="438.0" y2="36.54827046905863" stroke="#000" stroke-width="1.1"/>
<rect x="440.5" y="36.84717994768132" width="18.0" height="131.55282005231868" fill="#fff" stroke="#000" stroke-width="1"/>
<line x1="449.5" y1="36.44717994768132" x2="449.5" y2="36.84717994768132" stroke="#000" stroke-width="1"/>
<line x1="443.0" y1="36.44717994768132" x2="456.0" y2="36.44717994768132" stroke="#000" stroke-width="1.1"/>
<line x1="374.2" y1="159.5" x2="374.2" y2="167" stroke="#000" stroke-width="0.8"/>
</g>
<text transform="translate(305.43,189.62) scale(1.0763,1)" style="font-family:'Liberation Serif',serif;font-weight:bold;font-size:14.77px;stroke-width:0.35px">c-kit -</text>
<text transform="translate(399.42,190.32) scale(1.1011,1)" style="font-family:'Liberation Serif',serif;font-weight:bold;font-size:14.77px;stroke-width:0.35px">c-kit +</text>
<text transform="translate(251.98,240.53) scale(0.9776,1)" style="font-family:'Liberation Serif',serif;font-weight:bold;font-size:11.30px;stroke-width:0.35px">100</text>
<text transform="translate(257.62,266.67) scale(0.9666,1)" style="font-family:'Liberation Serif',serif;font-weight:bold;font-size:11.30px;stroke-width:0.35px">80</text>
<text transform="translate(257.62,292.81) scale(0.9666,1)" style="font-family:'Liberation Serif',serif;font-weight:bold;font-size:11.30px;stroke-width:0.35px">60</text>
<text transform="translate(257.61,318.95) scale(0.9673,1)" style="font-family:'Liberation Serif',serif;font-weight:bold;font-size:11.30px;stroke-width:0.35px">40</text>
<text transform="translate(257.62,345.09) scale(0.9663,1)" style="font-family:'Liberation Serif',serif;font-weight:bold;font-size:11.30px;stroke-width:0.35px">20</text>
<text transform="translate(263.29,371.23) scale(0.9269,1)" style="font-family:'Liberation Serif',serif;font-weight:bold;font-size:11.30px;stroke-width:0.35px">0</text>
<g transform="rotate(0.32 278.3 223.7)">
<rect x="278.3" y="223.7" width="192.0" height="143.90000000000003" fill="none" stroke="#000" stroke-width="1.6"/>
<line x1="278.3" y1="367.6" x2="470.3" y2="367.6" stroke="#000" stroke-width="2.4"/>
<line x1="278.3" y1="236.90" x2="285.8" y2="236.90" stroke="#000" stroke-width="1.2"/>
<line x1="278.3" y1="263.04" x2="285.8" y2="263.04" stroke="#000" stroke-width="1.2"/>
<line x1="278.3" y1="289.18" x2="285.8" y2="289.18" stroke="#000" stroke-width="1.2"/>
<line x1="278.3" y1="315.32" x2="285.8" y2="315.32" stroke="#000" stroke-width="1.2"/>
<line x1="278.3" y1="341.46" x2="285.8" y2="341.46" stroke="#000" stroke-width="1.2"/>
<text transform="translate(284.51,211.12) scale(0.9987,1)" style="font-family:'Liberation Serif',serif;font-weight:bold;font-size:15.81px;stroke-width:0.35px">E</text>
<rect x="290.4" y="237.1838296770913" width="17.400000000000034" height="130.41617032290873" fill="#000" stroke="#000" stroke-width="1"/>
<line x1="299.1" y1="235.98382967709128" x2="299.1" y2="237.1838296770913" stroke="#000" stroke-width="1"/>
<line x1="292.9" y1="235.98382967709128" x2="305.3" y2="235.98382967709128" stroke="#000" stroke-width="1.1"/>
<rect x="307.8" y="238.98497320038527" width="18.0" height="128.61502679961475" fill="url(#chk)" stroke="#000" stroke-width="1"/>
<line x1="316.8" y1="236.28497320038528" x2="316.8" y2="238.98497320038527" stroke="#000" stroke-width="1"/>
<line x1="310.3" y1="236.28497320038528" x2="323.3" y2="236.28497320038528" stroke="#000" stroke-width="1.1"/>
<clipPath id="hc2"><rect x="325.8" y="238.1841619345919" width="18.099999999999966" height="129.4158380654081"/></clipPath>
<rect x="325.8" y="238.1841619345919" width="18.099999999999966" height="129.4158380654081" fill="#fff"/>
<path d="M189.56,238.18L318.98,367.60M193.30,238.18L322.72,367.60M197.04,238.18L326.46,367.60M200.78,238.18L330.20,367.60M204.52,238.18L333.94,367.60M208.26,238.18L337.68,367.60M212.00,238.18L341.42,367.60M215.74,238.18L345.16,367.60M219.48,238.18L348.90,367.60M223.22,238.18L352.64,367.60M226.96,238.18L356.38,367.60M230.70,238.18L360.12,367.60M234.44,238.18L363.86,367.60M238.18,238.18L367.60,367.60M241.92,238.18L371.34,367.60M245.66,238.18L375.08,367.60M249.40,238.18L378.82,367.60M253.14,238.18L382.56,367.60M256.88,238.18L386.30,367.60M260.62,238.18L390.04,367.60M264.36,238.18L393.78,367.60M268.10,238.18L397.52,367.60M271.84,238.18L401.26,367.60M275.58,238.18L405.00,367.60M279.32,238.18L408.74,367.60M283.06,238.18L412.48,367.60M286.80,238.18L416.22,367.60M290.54,238.18L419.96,367.60M294.28,238.18L423.70,367.60M298.02,238.18L427.44,367.60M301.76,238.18L431.18,367.60M305.50,238.18L434.92,367.60M309.24,238.18L438.66,367.60M312.98,238.18L442.40,367.60M316.72,238.18L446.14,367.60M320.46,238.18L449.88,367.60M324.20,238.18L453.62,367.60M327.94,238.18L457.36,367.60M331.68,238.18L461.10,367.60M335.42,238.18L464.84,367.60M339.16,238.18L468.58,367.60M342.90,238.18L472.32,367.60M346.64,238.18L476.06,367.60M350.38,238.18L479.80,367.60" stroke="#000" stroke-width="1.45" clip-path="url(#hc2)"/>
<rect x="325.8" y="238.1841619345919" width="18.099999999999966" height="129.4158380654081" fill="none" stroke="#000" stroke-width="1"/>
<line x1="334.85" y1="235.1841619345919" x2="334.85" y2="238.1841619345919" stroke="#000" stroke-width="1"/>
<line x1="328.3" y1="235.1841619345919" x2="341.4" y2="235.1841619345919" stroke="#000" stroke-width="1.1"/>
<rect x="343.9" y="241.7833506687985" width="18.0" height="125.81664933120152" fill="#fff" stroke="#000" stroke-width="1"/>
<line x1="352.9" y1="239.48335066879852" x2="352.9" y2="241.7833506687985" stroke="#000" stroke-width="1"/>
<line x1="346.4" y1="239.48335066879852" x2="359.4" y2="239.48335066879852" stroke="#000" stroke-width="1.1"/>
<rect x="388.6" y="365.8426323554636" width="14.799999999999955" height="1.75736764453643" fill="#000" stroke="#000" stroke-width="1"/>
<rect x="403.4" y="364.75131577952334" width="17.900000000000034" height="2.8486842204766845" fill="url(#chk)" stroke="#000" stroke-width="1"/>
<line x1="412.35" y1="361.75131577952334" x2="412.35" y2="364.75131577952334" stroke="#000" stroke-width="1"/>
<line x1="405.9" y1="361.75131577952334" x2="418.8" y2="361.75131577952334" stroke="#000" stroke-width="1.1"/>
<clipPath id="hc3"><rect x="421.3" y="364.9510630248978" width="18.0" height="2.648936975102231"/></clipPath>
<rect x="421.3" y="364.9510630248978" width="18.0" height="2.648936975102231" fill="#fff"/>
<path d="M413.57,364.95L416.22,367.60M417.31,364.95L419.96,367.60M421.05,364.95L423.70,367.60M424.79,364.95L427.44,367.60M428.53,364.95L431.18,367.60M432.27,364.95L434.92,367.60M436.01,364.95L438.66,367.60M439.75,364.95L442.40,367.60M443.49,364.95L446.14,367.60" stroke="#000" stroke-width="1.45" clip-path="url(#hc3)"/>
<rect x="421.3" y="364.9510630248978" width="18.0" height="2.648936975102231" fill="none" stroke="#000" stroke-width="1"/>
<line x1="430.3" y1="363.1510630248978" x2="430.3" y2="364.9510630248978" stroke="#000" stroke-width="1"/>
<line x1="423.8" y1="363.1510630248978" x2="436.8" y2="363.1510630248978" stroke="#000" stroke-width="1.1"/>
<rect x="439.3" y="362.1457836697618" width="19.69999999999999" height="5.454216330238239" fill="#fff" stroke="#000" stroke-width="1"/>
<line x1="449.15" y1="359.44578366976174" x2="449.15" y2="362.1457836697618" stroke="#000" stroke-width="1"/>
<line x1="441.8" y1="359.44578366976174" x2="456.5" y2="359.44578366976174" stroke="#000" stroke-width="1.1"/>
<line x1="373.7" y1="359.5" x2="373.7" y2="367" stroke="#000" stroke-width="0.8"/>
</g>
<text transform="translate(297.13,388.82) scale(1.0513,1)" style="font-family:'Liberation Serif',serif;font-weight:bold;font-size:14.92px;stroke-width:0.35px">Thy1.2 -</text>
<text transform="translate(391.93,388.82) scale(1.0519,1)" style="font-family:'Liberation Serif',serif;font-weight:bold;font-size:14.92px;stroke-width:0.35px">Thy1.2 +</text>
<text transform="translate(250.98,436.52) scale(0.9776,1)" style="font-family:'Liberation Serif',serif;font-weight:bold;font-size:11.30px;stroke-width:0.35px">100</text>
<text transform="translate(256.62,462.87) scale(0.9666,1)" style="font-family:'Liberation Serif',serif;font-weight:bold;font-size:11.30px;stroke-width:0.35px">80</text>
<text transform="translate(256.62,489.20) scale(0.9666,1)" style="font-family:'Liberation Serif',serif;font-weight:bold;font-size:11.30px;stroke-width:0.35px">60</text>
<text transform="translate(256.61,515.55) scale(0.9673,1)" style="font-family:'Liberation Serif',serif;font-weight:bold;font-size:11.30px;stroke-width:0.35px">40</text>
<text transform="translate(256.62,541.88) scale(0.9663,1)" style="font-family:'Liberation Serif',serif;font-weight:bold;font-size:11.30px;stroke-width:0.35px">20</text>
<text transform="translate(262.29,568.23) scale(0.9269,1)" style="font-family:'Liberation Serif',serif;font-weight:bold;font-size:11.30px;stroke-width:0.35px">0</text>
<g transform="rotate(0.32 277.9 419.8)">
<rect x="277.9" y="419.8" width="191.70000000000005" height="144.8" fill="none" stroke="#000" stroke-width="1.6"/>
<line x1="277.9" y1="564.6" x2="469.6" y2="564.6" stroke="#000" stroke-width="2.4"/>
<line x1="277.9" y1="432.90" x2="285.4" y2="432.90" stroke="#000" stroke-width="1.2"/>
<line x1="277.9" y1="459.24" x2="285.4" y2="459.24" stroke="#000" stroke-width="1.2"/>
<line x1="277.9" y1="485.58" x2="285.4" y2="485.58" stroke="#000" stroke-width="1.2"/>
<line x1="277.9" y1="511.92" x2="285.4" y2="511.92" stroke="#000" stroke-width="1.2"/>
<line x1="277.9" y1="538.26" x2="285.4" y2="538.26" stroke="#000" stroke-width="1.2"/>
<text transform="translate(283.89,408.02) scale(1.0372,1)" style="font-family:'Liberation Serif',serif;font-weight:bold;font-size:15.81px;stroke-width:0.35px">F</text>
<rect x="289.8" y="432.88494669942696" width="17.399999999999977" height="131.71505330057306" fill="#000" stroke="#000" stroke-width="1"/>
<line x1="298.5" y1="431.684946699427" x2="298.5" y2="432.88494669942696" stroke="#000" stroke-width="1"/>
<line x1="292.3" y1="431.684946699427" x2="304.7" y2="431.684946699427" stroke="#000" stroke-width="1.1"/>
<rect x="307.2" y="434.98804501180837" width="17.30000000000001" height="129.61195498819166" fill="url(#chk)" stroke="#000" stroke-width="1"/>
<line x1="315.85" y1="432.2880450118084" x2="315.85" y2="434.98804501180837" stroke="#000" stroke-width="1"/>
<line x1="309.7" y1="432.2880450118084" x2="322.0" y2="432.2880450118084" stroke="#000" stroke-width="1.1"/>
<clipPath id="hc4"><rect x="324.5" y="434.8880715127667" width="18.5" height="129.7119284872333"/></clipPath>
<rect x="324.5" y="434.8880715127667" width="18.5" height="129.7119284872333" fill="#fff"/>
<path d="M188.05,434.89L317.76,564.60M191.79,434.89L321.50,564.60M195.53,434.89L325.24,564.60M199.27,434.89L328.98,564.60M203.01,434.89L332.72,564.60M206.75,434.89L336.46,564.60M210.49,434.89L340.20,564.60M214.23,434.89L343.94,564.60M217.97,434.89L347.68,564.60M221.71,434.89L351.42,564.60M225.45,434.89L355.16,564.60M229.19,434.89L358.90,564.60M232.93,434.89L362.64,564.60M236.67,434.89L366.38,564.60M240.41,434.89L370.12,564.60M244.15,434.89L373.86,564.60M247.89,434.89L377.60,564.60M251.63,434.89L381.34,564.60M255.37,434.89L385.08,564.60M259.11,434.89L388.82,564.60M262.85,434.89L392.56,564.60M266.59,434.89L396.30,564.60M270.33,434.89L400.04,564.60M274.07,434.89L403.78,564.60M277.81,434.89L407.52,564.60M281.55,434.89L411.26,564.60M285.29,434.89L415.00,564.60M289.03,434.89L418.74,564.60M292.77,434.89L422.48,564.60M296.51,434.89L426.22,564.60M300.25,434.89L429.96,564.60M303.99,434.89L433.70,564.60M307.73,434.89L437.44,564.60M311.47,434.89L441.18,564.60M315.21,434.89L444.92,564.60M318.95,434.89L448.66,564.60M322.69,434.89L452.40,564.60M326.43,434.89L456.14,564.60M330.17,434.89L459.88,564.60M333.91,434.89L463.62,564.60M337.65,434.89L467.36,564.60M341.39,434.89L471.10,564.60M345.13,434.89L474.84,564.60M348.87,434.89L478.58,564.60" stroke="#000" stroke-width="1.45" clip-path="url(#hc4)"/>
<rect x="324.5" y="434.8880715127667" width="18.5" height="129.7119284872333" fill="none" stroke="#000" stroke-width="1"/>
<line x1="333.75" y1="433.1880715127667" x2="333.75" y2="434.8880715127667" stroke="#000" stroke-width="1"/>
<line x1="327.0" y1="433.1880715127667" x2="340.5" y2="433.1880715127667" stroke="#000" stroke-width="1.1"/>
<rect x="343.0" y="494.8867017358055" width="17.80000000000001" height="69.71329826419452" fill="#fff" stroke="#000" stroke-width="1"/>
<line x1="351.9" y1="484.7867017358055" x2="351.9" y2="494.8867017358055" stroke="#000" stroke-width="1"/>
<line x1="345.5" y1="484.7867017358055" x2="358.3" y2="484.7867017358055" stroke="#000" stroke-width="1.1"/>
<rect x="387.5" y="562.3465419336384" width="14.800000000000011" height="2.2534580663616453" fill="#000" stroke="#000" stroke-width="1"/>
<rect x="402.3" y="560.6580179135373" width="16.899999999999977" height="3.941982086462758" fill="url(#chk)" stroke="#000" stroke-width="1"/>
<line x1="410.75" y1="559.1580179135373" x2="410.75" y2="560.6580179135373" stroke="#000" stroke-width="1"/>
<line x1="404.8" y1="559.1580179135373" x2="416.7" y2="559.1580179135373" stroke="#000" stroke-width="1.1"/>
<clipPath id="hc5"><rect x="419.2" y="559.6546933474887" width="20.100000000000023" height="4.945306652511363"/></clipPath>
<rect x="419.2" y="559.6546933474887" width="20.100000000000023" height="4.945306652511363" fill="#fff"/>
<path d="M410.05,559.65L415.00,564.60M413.79,559.65L418.74,564.60M417.53,559.65L422.48,564.60M421.27,559.65L426.22,564.60M425.01,559.65L429.96,564.60M428.75,559.65L433.70,564.60M432.49,559.65L437.44,564.60M436.23,559.65L441.18,564.60M439.97,559.65L444.92,564.60M443.71,559.65L448.66,564.60" stroke="#000" stroke-width="1.45" clip-path="url(#hc5)"/>
<rect x="419.2" y="559.6546933474887" width="20.100000000000023" height="4.945306652511363" fill="none" stroke="#000" stroke-width="1"/>
<line x1="429.25" y1="558.4546933474886" x2="429.25" y2="559.6546933474887" stroke="#000" stroke-width="1"/>
<line x1="421.7" y1="558.4546933474886" x2="436.8" y2="558.4546933474886" stroke="#000" stroke-width="1.1"/>
<rect x="439.3" y="501.84717994768135" width="18.399999999999977" height="62.75282005231867" fill="#fff" stroke="#000" stroke-width="1"/>
<line x1="448.5" y1="491.24717994768133" x2="448.5" y2="501.84717994768135" stroke="#000" stroke-width="1"/>
<line x1="441.8" y1="491.24717994768133" x2="455.2" y2="491.24717994768133" stroke="#000" stroke-width="1.1"/>
<line x1="372.7" y1="557.3" x2="372.7" y2="564" stroke="#000" stroke-width="0.8"/>
</g>
<text transform="translate(302.62,586.93) scale(1.0229,1)" style="font-family:'Liberation Serif',serif;font-weight:bold;font-size:15.78px;stroke-width:0.35px">Sca1 -</text>
<text transform="translate(396.30,587.12) scale(1.0626,1)" style="font-family:'Liberation Serif',serif;font-weight:bold;font-size:15.48px;stroke-width:0.35px">Sca1 +</text>
<text transform="translate(268.20,611.62) scale(1.0115,1)" style="font-family:'Liberation Serif',serif;font-weight:bold;font-size:15.93px;stroke-width:0.35px">Fractionated Cell Populations</text>
<text transform="translate(514.83,406.34) rotate(-90) scale(1.0269,1)" style="font-family:'Liberation Serif',serif;font-weight:bold;font-size:15.35px;stroke-width:0.35px">% Colony Formation</text>
</svg>
</body></html>
